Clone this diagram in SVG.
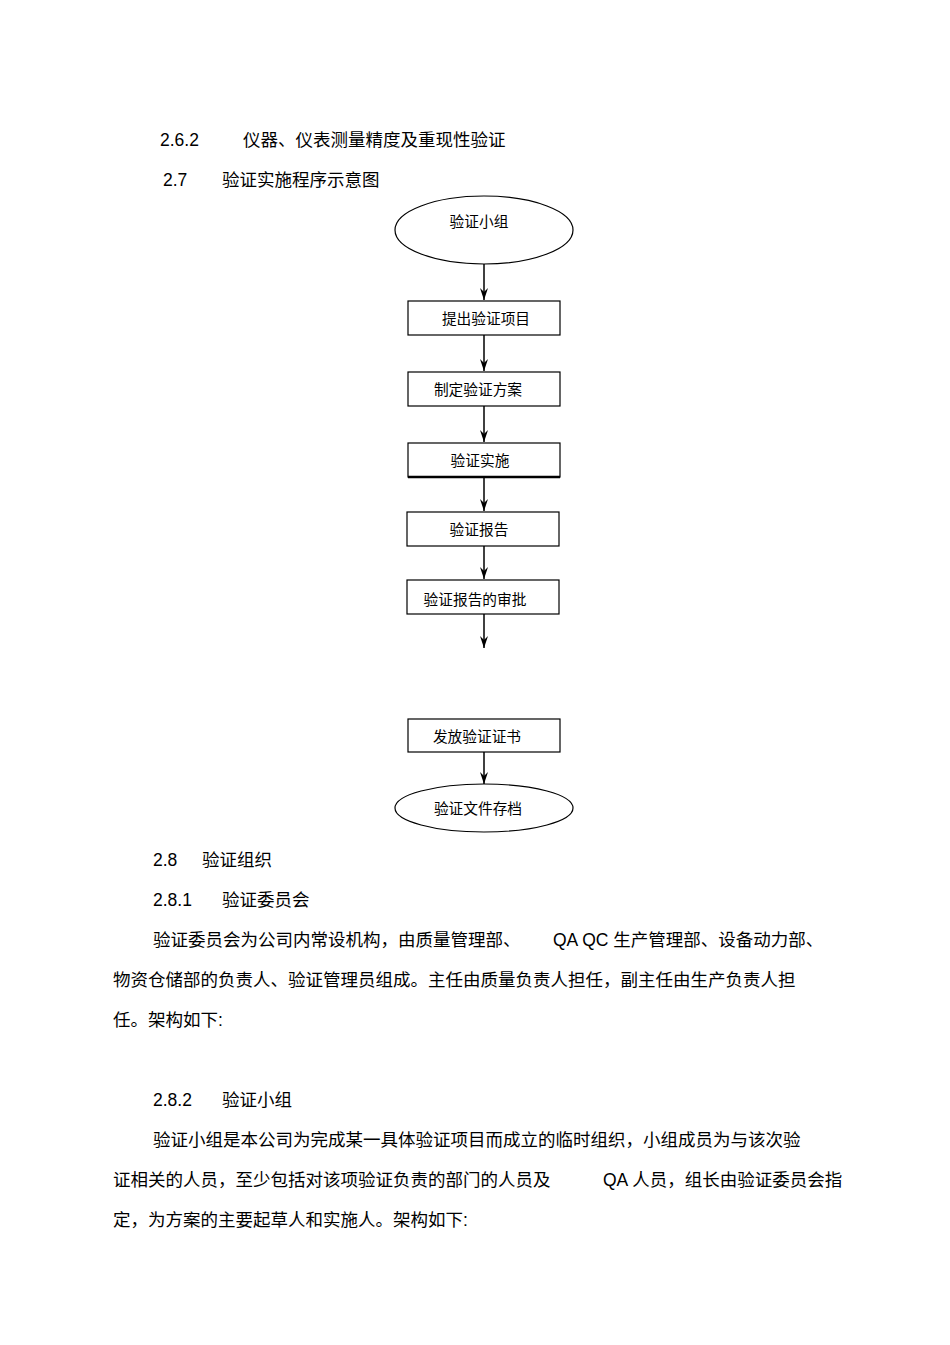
<svg xmlns="http://www.w3.org/2000/svg" width="950" height="1345" viewBox="0 0 950 1345">
<style>
text{font-family:"Liberation Sans","Noto Sans CJK SC",sans-serif;fill:#000}
.b{font-size:17.5px}
.n{font-size:14.7px;text-anchor:middle}
.s{fill:#fff;stroke:#000;stroke-width:1.2}
.c{stroke:#000;stroke-width:1.5;fill:none;marker-end:url(#a)}
</style>
<defs><marker id="a" markerWidth="12" markerHeight="8" refX="12" refY="4" orient="auto" markerUnits="userSpaceOnUse"><path d="M0,0 L12,4 L0,8 L4,4 Z" fill="#000"/></marker></defs>
<rect width="950" height="1345" fill="#fff"/>
<text class="b" x="160" y="146">2.6.2</text><text class="b" x="243" y="146">仪器、仪表测量精度及重现性验证</text>
<text class="b" x="163" y="186">2.7</text><text class="b" x="222" y="186">验证实施程序示意图</text>
<g id="n1"><ellipse class="s" cx="484" cy="230" rx="89" ry="34"/><text class="n" x="479" y="227">验证小组</text></g>
<g id="n2"><rect class="s" x="408" y="301" width="152" height="34"/><text class="n" x="486" y="324">提出验证项目</text></g>
<g id="n3"><rect class="s" x="408" y="372" width="152" height="34"/><text class="n" x="478" y="395">制定验证方案</text></g>
<g id="n4"><rect class="s" x="408" y="443" width="152" height="34"/><line x1="408" y1="477" x2="560" y2="477" stroke="#000" stroke-width="2.5"/><text class="n" x="480" y="466">验证实施</text></g>
<g id="n5"><rect class="s" x="407" y="512" width="152" height="34"/><text class="n" x="479" y="535">验证报告</text></g>
<g id="n6"><rect class="s" x="407" y="580" width="152" height="34"/><text class="n" x="475" y="605">验证报告的审批</text></g>
<g id="n7"><rect class="s" x="408" y="719" width="152" height="33"/><text class="n" x="477" y="742">发放验证证书</text></g>
<g id="n8"><ellipse class="s" cx="484" cy="808" rx="89" ry="24"/><text class="n" x="478" y="814">验证文件存档</text></g>
<g id="connectors">
<line class="c" x1="484" y1="264" x2="484" y2="300"/>
<line class="c" x1="484" y1="335" x2="484" y2="371"/>
<line class="c" x1="484" y1="406" x2="484" y2="442"/>
<line class="c" x1="484" y1="477" x2="484" y2="511"/>
<line class="c" x1="484" y1="546" x2="484" y2="579"/>
<line class="c" x1="484" y1="614" x2="484" y2="648"/>
<line class="c" x1="484" y1="752" x2="484" y2="784"/>
</g>
<text class="b" x="153" y="866">2.8</text><text class="b" x="202" y="866">验证组织</text>
<text class="b" x="153" y="906">2.8.1</text><text class="b" x="222" y="906">验证委员会</text>
<text class="b" x="153" y="946">验证委员会为公司内常设机构，由质量管理部、</text><text class="b" x="553" y="946">QA QC 生产管理部、设备动力部、</text>
<text class="b" x="113" y="986">物资仓储部的负责人、验证管理员组成。主任由质量负责人担任，副主任由生产负责人担</text>
<text class="b" x="113" y="1026">任。架构如下:</text>
<text class="b" x="153" y="1106">2.8.2</text><text class="b" x="222" y="1106">验证小组</text>
<text class="b" x="153" y="1146">验证小组是本公司为完成某一具体验证项目而成立的临时组织，小组成员为与该次验</text>
<text class="b" x="113" y="1186">证相关的人员，至少包括对该项验证负责的部门的人员及</text><text class="b" x="603" y="1186">QA 人员，组长由验证委员会指</text>
<text class="b" x="113" y="1226">定，为方案的主要起草人和实施人。架构如下:</text>
</svg>
